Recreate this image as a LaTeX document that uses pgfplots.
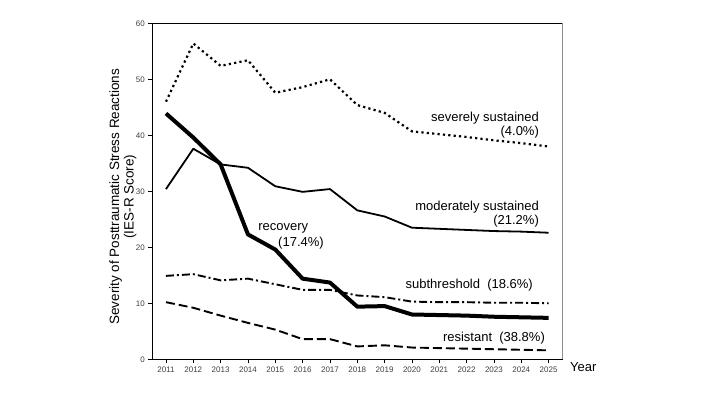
\documentclass[border=0pt]{standalone}
\usepackage{fontspec}
\setmainfont{Liberation Sans}
\usepackage{pgfplots}
\pgfplotsset{compat=1.18}
\begin{document}
\begin{tikzpicture}
\path[use as bounding box] (0,0) rectangle (720pt,405pt);
\begin{axis}[
  at={(152.3pt,45.7pt)}, anchor=south west,
  scale only axis, width=410pt, height=336pt,
  xmin=2010.5, xmax=2025.5, ymin=0, ymax=60,
  xtick={2011,...,2025}, ytick={0,10,...,60},
  /pgf/number format/assume math mode=true,
  xticklabel style={/pgf/number format/1000 sep={}, font=\fontsize{8}{9}\selectfont, text=black!75},
  yticklabel style={font=\fontsize{8}{9}\selectfont, text=black!75},
  tick align=outside, xtick pos=bottom, ytick pos=left,
  major tick length=4pt,
  tick style={black, line width=0.6pt},
  axis line style={line width=1pt},
  clip=false,
]
\draw[black!45, line width=1.2pt] (rel axis cs:1,0) -- (rel axis cs:1,1);
% severely sustained
\addplot[black, line width=2.2pt, line cap=butt, dash pattern=on 2.2pt off 3.2pt] coordinates {
(2011,46.0)(2012,56.4)(2013,52.4)(2014,53.4)(2015,47.6)(2016,48.6)(2017,50.0)(2018,45.4)(2019,44.0)(2020,40.7)(2021,40.2)(2022,39.7)(2023,39.1)(2024,38.6)(2025,38.0)};
% moderately sustained
\addplot[black, line width=1.8pt, line join=round] coordinates {
(2011,30.4)(2012,37.6)(2013,34.8)(2014,34.2)(2015,30.9)(2016,29.9)(2017,30.4)(2018,26.6)(2019,25.5)(2020,23.5)(2021,23.3)(2022,23.1)(2023,22.9)(2024,22.8)(2025,22.6)};
% recovery
\addplot[black, line width=4pt, line join=round] coordinates {
(2011,43.9)(2012,39.6)(2013,34.8)(2014,22.3)(2015,19.6)(2016,14.4)(2017,13.7)(2018,9.4)(2019,9.5)(2020,8.0)(2021,7.9)(2022,7.8)(2023,7.6)(2024,7.5)(2025,7.4)};
% subthreshold
\addplot[black, line width=1.9pt, dash pattern=on 8pt off 3pt on 2pt off 3pt] coordinates {
(2011,14.9)(2012,15.2)(2013,14.1)(2014,14.4)(2015,13.4)(2016,12.4)(2017,12.4)(2018,11.4)(2019,11.1)(2020,10.3)(2021,10.2)(2022,10.2)(2023,10.1)(2024,10.1)(2025,10.0)};
% resistant
\addplot[black, line width=1.9pt, dash pattern=on 9pt off 4pt] coordinates {
(2011,10.2)(2012,9.2)(2013,7.8)(2014,6.5)(2015,5.3)(2016,3.6)(2017,3.6)(2018,2.3)(2019,2.5)(2020,2.1)(2021,2.0)(2022,1.9)(2023,1.8)(2024,1.7)(2025,1.6)};

\node[anchor=east, align=right, font=\fontsize{13}{14.5}\selectfont, inner sep=0pt] at (axis cs:2024.65,41.8) {severely sustained\\(4.0\%)};
\node[anchor=east, align=right, font=\fontsize{13}{14.5}\selectfont, inner sep=0pt] at (axis cs:2024.65,25.9) {moderately sustained\\(21.2\%)};
\node[anchor=east, font=\fontsize{13}{14.5}\selectfont, inner sep=0pt] at (axis cs:2024.43,13.3) {subthreshold\ \ (18.6\%)};
\node[anchor=east, font=\fontsize{13}{14.5}\selectfont, inner sep=0pt] at (axis cs:2024.87,3.8) {resistant\ \ (38.8\%)};
\node[anchor=west, font=\fontsize{13}{14.5}\selectfont, inner sep=0pt] at (axis cs:2014.37,23.3) {recovery};
\node[anchor=west, font=\fontsize{13}{14.5}\selectfont, inner sep=0pt] at (axis cs:2015.1,20.8) {(17.4\%)};
\node[anchor=west, font=\fontsize{13}{14.5}\selectfont, inner sep=0pt] at (axis cs:2025.78,-1.4) {Year};
\node[rotate=90, align=center, font=\fontsize{13.5}{14.5}\selectfont, inner sep=0pt] at (rel axis cs:-0.072,0.484) {Severity of Posttraumatic Stress Reactions\\(IES-R Score)};
\end{axis}
\end{tikzpicture}
\end{document}
